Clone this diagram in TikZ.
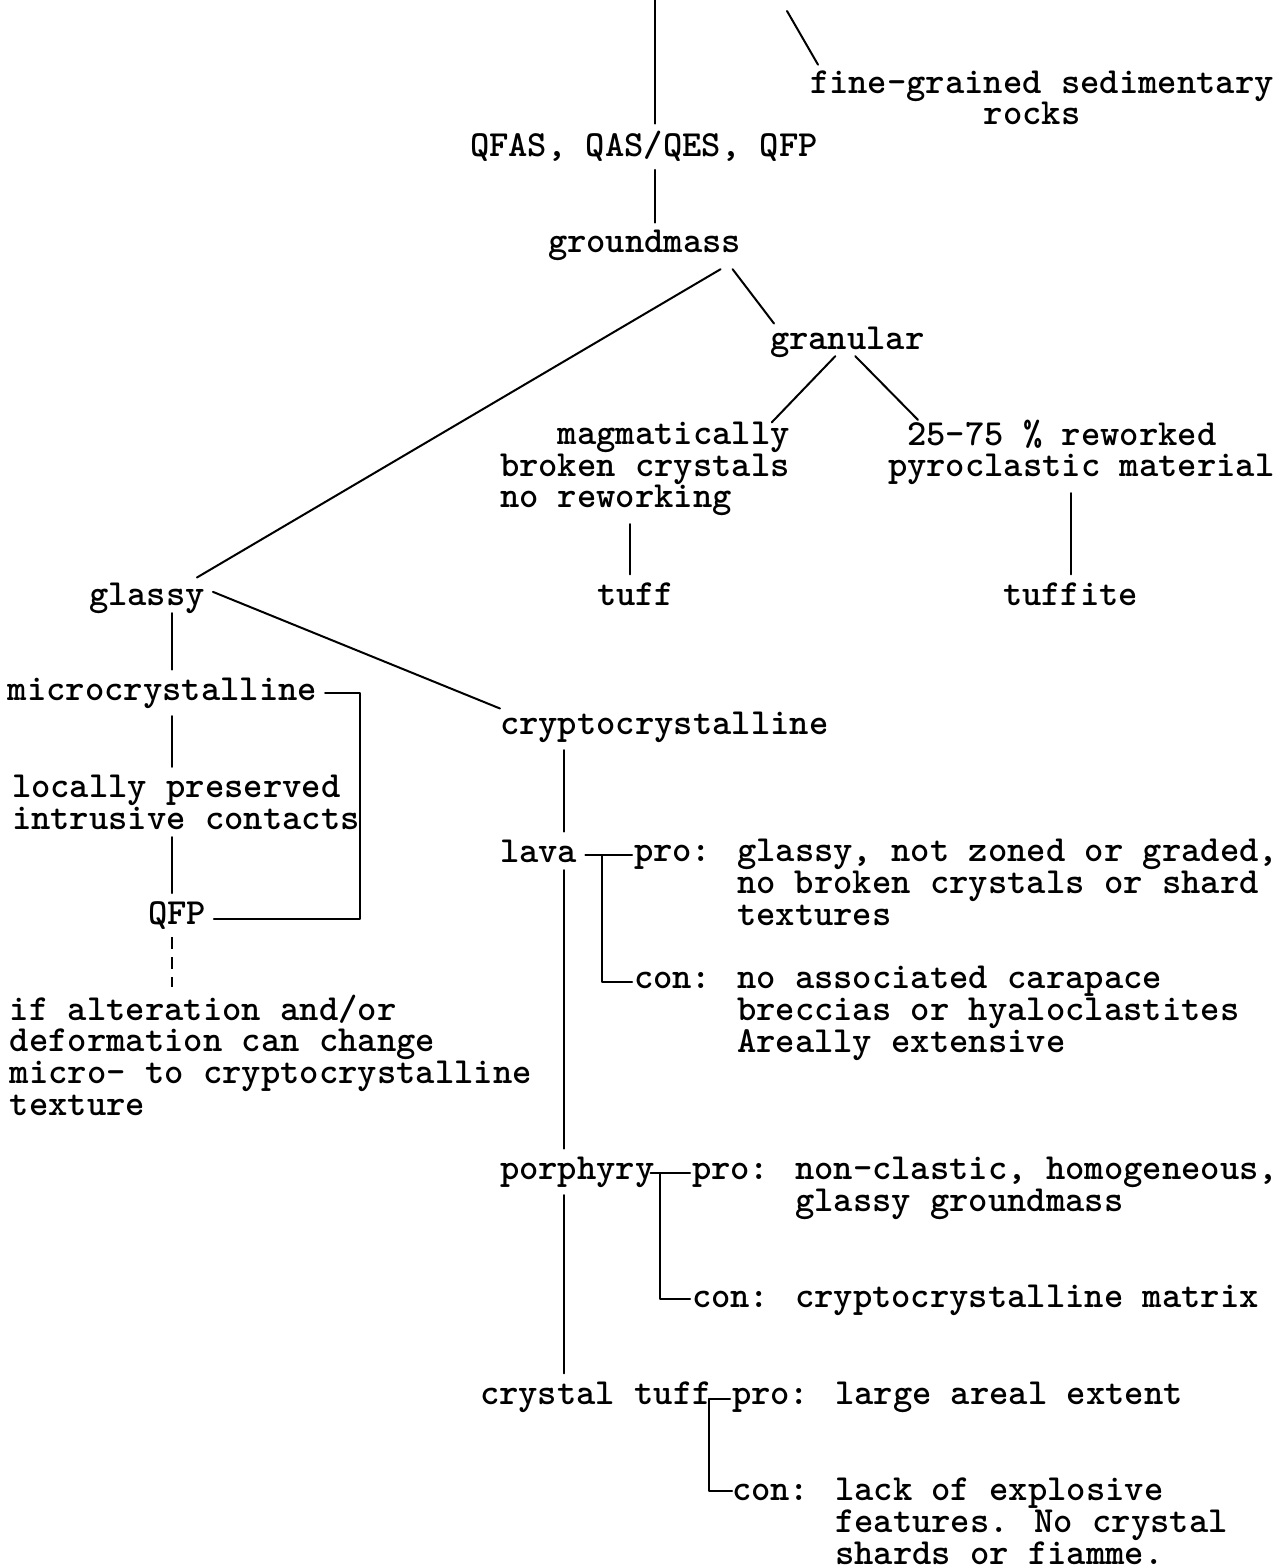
\documentclass[tikz,border=0pt]{standalone}
\usepackage{fontspec}
\newcommand\tyfont{\ttfamily\bfseries\fontsize{18.4pt}{15.8pt}\selectfont\lineskiplimit=-50pt\lineskip=0pt}
\tikzset{
  txt/.style={font=\tyfont, inner sep=0pt, outer sep=4pt, anchor=base west, align=left, xshift=-4pt},
  ln/.style={line width=1pt, line cap=round, line join=round},
  dln/.style={ln, line cap=butt, dash pattern=on 6pt off 4pt}
}
\begin{document}
\begin{tikzpicture}[x=0.5pt,y=-0.5pt]
\useasboundingbox[fill=white] (0,0) rectangle (1287,1566);

% ---- nodes (anchored at the baseline of their last line) ----
\node[txt] (fine) at (810,125) {fine-grained sedimentary\\\phantom{xxxxxxxxx}rocks};
\node[txt] (qfas) at (470,157) {QFAS, QAS/QES, QFP};
\node[txt] (gm) at (548,253) {groundmass};
\node[txt] (gran) at (770,350) {granular};
\node[txt] (magm) at (500,508) {\phantom{bro}magmatically\\broken crystals\\no reworking};
\node[txt] (rew) at (888,477) {\phantom{p}25-75 \% reworked\\pyroclastic material};
\node[txt] (tuff) at (597,605) {tuff};
\node[txt] (tuffite) at (1003,605) {tuffite};
\node[txt] (glassy) at (89,605) {glassy};
\node[txt] (micro) at (8,700) {microcrystalline};
\node[txt] (local) at (12,829) {locally preserved\\intrusive contacts};
\node[txt] (qfp) at (148,924) {QFP};
\node[txt] (alter) at (10,1115) {if alteration and/or\\deformation can change\\micro- to cryptocrystalline\\texture};
\node[txt] (crypto) at (500,734) {cryptocrystalline};
\node[txt] (lava) at (500,862) {lava};
\node[txt] (lavapro) at (634,925) {pro: glassy, not zoned or graded,\\\phantom{pro: }no broken crystals or shard\\\phantom{pro: }textures};
\node[txt] (lavacon) at (634,1052) {con: no associated carapace\\\phantom{con: }breccias or hyaloclastites\\\phantom{con: }Areally extensive};
\node[txt] (porph) at (500,1179) {porphyry};
\node[txt] (porphpro) at (692,1211) {pro: non-clastic, homogeneous,\\\phantom{pro: }glassy groundmass};
\node[txt] (porphcon) at (692,1307) {con: cryptocrystalline matrix};
\node[txt] (ctuff) at (480,1404) {crystal tuff};
\node[txt] (ctpro) at (732,1404) {pro: large areal extent};
\node[txt] (ctcon) at (732,1564) {con: lack of explosive\\\phantom{con: }features. No crystal\\\phantom{con: }shards or fiamme.};

% ---- connectors ----
\coordinate (t0) at (655,0);
\coordinate (t1) at (787,11);
\draw[ln] (t0) -- (t0 |- qfas.north);
\draw[ln] (t0 |- qfas.south) -- (t0 |- gm.north);
\draw[ln] (t1) -- ([xshift=8pt,yshift=-1pt]fine.north west);

\draw[ln] ([xshift=38pt]gm.south) -- ([xshift=-8pt,yshift=-1.5pt]glassy.north east);
\draw[ln] ([xshift=44pt]gm.south) -- ([xshift=6pt,yshift=-2pt]gran.north west);
\draw[ln] ([xshift=-6pt,yshift=5pt]gran.south) -- ([xshift=-13pt,yshift=-4pt]magm.north east);
\draw[ln] ([xshift=4pt,yshift=5pt]gran.south) -- ([xshift=19pt,yshift=-4pt]rew.north west);

\draw[ln] ([xshift=-3pt]tuff.north) -- ([xshift=-3pt]tuff.north |- magm.south);
\draw[ln] (tuffite.north) -- (tuffite.north |- rew.south);

\draw[ln] ([yshift=3pt]glassy.east) -- ([xshift=4pt,yshift=-2.5pt]crypto.north west);

\coordinate (gx) at ([xshift=12.6pt]glassy.south);
\draw[ln] ([yshift=4pt]gx) -- (gx |- micro.north);
\draw[ln] (gx |- micro.south) -- (gx |- local.north);
\draw[ln] (gx |- local.south) -- (gx |- qfp.north);
\draw[dln] (gx |- qfp.south) -- (gx |- alter.north);
\coordinate (qfpr) at ([yshift=-2pt]qfp.east);
\draw[ln] (micro.east) -- ++(17.5pt,0) |- (qfpr);

\coordinate (cx) at ([xshift=12.9pt]lava.north);
\draw[ln] (cx |- crypto.south) -- (cx);
\draw[ln] (cx |- lava.south) -- (cx |- porph.north);
\draw[ln] (cx |- porph.south) -- (cx |- ctuff.north);

% lava: pro / con
\coordinate (lh) at ([yshift=3.5pt]lava.base east);
\coordinate (lj) at ([xshift=8.5pt,yshift=3.5pt]lava.base east);
\coordinate (lp) at ([xshift=3pt]lavapro.west);
\coordinate (lc) at ([xshift=3pt,yshift=2*15.8pt+3.5pt]lavacon.base west);
\draw[ln] (lh) -- (lh -| lp);
\draw[ln] (lj) |- (lc);

% porphyry: pro / con
\coordinate (ph) at ([xshift=-6pt,yshift=3pt]porph.base east);
\coordinate (pj) at ([xshift=-1.5pt,yshift=3pt]porph.base east);
\coordinate (pp) at ([xshift=3pt]porphpro.west);
\coordinate (pc) at ([xshift=3pt,yshift=4pt]porphcon.base west);
\draw[ln] (ph) -- (ph -| pp);
\draw[ln] (pj) |- (pc);

% crystal tuff: pro / con
\coordinate (cj) at ([xshift=-5.5pt,yshift=2.5pt]ctuff.base east);
\coordinate (cp) at ([xshift=3pt]ctpro.west);
\coordinate (cc) at ([xshift=4pt,yshift=2*15.8pt+5pt]ctcon.base west);
\draw[ln] (cj) -- (cj -| cp);
\draw[ln] (cj) |- (cc);
\end{tikzpicture}
\end{document}
